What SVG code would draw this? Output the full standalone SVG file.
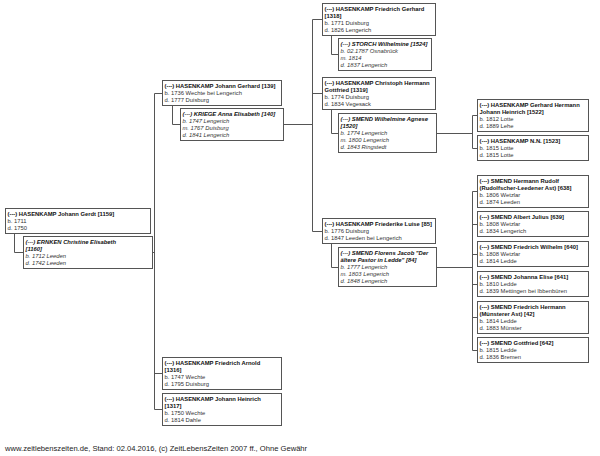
<svg xmlns="http://www.w3.org/2000/svg" width="600" height="456" viewBox="0 0 600 456">
<style>
.box{fill:#fff;stroke:#555;stroke-width:1}
.ln{fill:none;stroke:#555;stroke-width:1}
text{font-family:"Liberation Sans",Arial,sans-serif;font-size:5.85px;fill:#333}
.n{font-weight:bold;fill:#111}
.sp text{font-style:italic}
.foot{font-size:7.6px;fill:#222}
</style>
<rect width="600" height="456" fill="#fff"/>
<g id="connectors">
<path class="ln" d="M14.5,233.5V252.5H23.5M152.5,252.5H154.5M154.5,93.5V409.5M154.5,93.5H162.5M154.5,373.5H162.5M154.5,409.5H162.5"/>
<path class="ln" d="M172.5,105.5V124.5H180.5M283.5,124.5H312.5M312.5,19.5V231.5M312.5,19.5H322.5M312.5,93.5H322.5M312.5,231.5H322.5"/>
<path class="ln" d="M331.5,35.5V54.5H338.5M331.5,109.5V133.5H338.5M331.5,243.5V267.5H338.5"/>
<path class="ln" d="M436.5,133.5H472.5M472.5,115.5V148.5M472.5,115.5H477.5M472.5,148.5H477.5"/>
<path class="ln" d="M436.5,267.5H472.5M472.5,191.5V350.5M472.5,191.5H477.5M472.5,224.5H477.5M472.5,254.5H477.5M472.5,284.5H477.5M472.5,317.5H477.5M472.5,350.5H477.5"/>
</g>
<g id="p1159"><rect class="box" x="5.5" y="208.5" width="145" height="25"/><text x="7.5" y="215.5"><tspan class="n">(---) HASENKAMP Johann Gerdt [1159]</tspan><tspan x="7.5" dy="7.2">b. 1711</tspan><tspan x="7.5" dy="7.2">d. 1750</tspan></text></g>
<g id="p1160" class="sp"><rect class="box" x="23.5" y="236.5" width="129" height="32"/><text x="25.5" y="243.5"><tspan class="n">(---) ERNKEN Christine Elisabeth</tspan><tspan class="n" x="25.5" dy="7.2">[1160]</tspan><tspan x="25.5" dy="7.2">b. 1712 Leeden</tspan><tspan x="25.5" dy="7.2">d. 1742 Leeden</tspan></text></g>
<g id="p139"><rect class="box" x="162.5" y="80.5" width="119" height="25"/><text x="164.5" y="87.5"><tspan class="n">(---) HASENKAMP Johann Gerhard [139]</tspan><tspan x="164.5" dy="7.2">b. 1736 Wechte bei Lengerich</tspan><tspan x="164.5" dy="7.2">d. 1777 Duisburg</tspan></text></g>
<g id="p140" class="sp"><rect class="box" x="180.5" y="108.5" width="103" height="32"/><text x="182.5" y="115.5"><tspan class="n">(---) KRIEGE Anna Elisabeth [140]</tspan><tspan x="182.5" dy="7.2">b. 1747 Lengerich</tspan><tspan x="182.5" dy="7.2">m. 1767 Duisburg</tspan><tspan x="182.5" dy="7.2">d. 1841 Lengerich</tspan></text></g>
<g id="p1316"><rect class="box" x="162.5" y="357.5" width="119" height="32"/><text x="164.5" y="364.5"><tspan class="n">(---) HASENKAMP Friedrich Arnold</tspan><tspan class="n" x="164.5" dy="7.2">[1316]</tspan><tspan x="164.5" dy="7.2">b. 1747 Wechte</tspan><tspan x="164.5" dy="7.2">d. 1795 Duisburg</tspan></text></g>
<g id="p1317"><rect class="box" x="162.5" y="393.5" width="119" height="32"/><text x="164.5" y="400.5"><tspan class="n">(---) HASENKAMP Johann Heinrich</tspan><tspan class="n" x="164.5" dy="7.2">[1317]</tspan><tspan x="164.5" dy="7.2">b. 1750 Wechte</tspan><tspan x="164.5" dy="7.2">d. 1814 Dahle</tspan></text></g>
<g id="p1318"><rect class="box" x="322.5" y="3.5" width="113" height="32"/><text x="324.5" y="10.5"><tspan class="n">(---) HASENKAMP Friedrich Gerhard</tspan><tspan class="n" x="324.5" dy="7.2">[1318]</tspan><tspan x="324.5" dy="7.2">b. 1771 Duisburg</tspan><tspan x="324.5" dy="7.2">d. 1826 Lengerich</tspan></text></g>
<g id="p1524" class="sp"><rect class="box" x="338.5" y="38.5" width="93" height="32"/><text x="340.5" y="45.5"><tspan class="n">(---) STORCH Wilhelmine [1524]</tspan><tspan x="340.5" dy="7.2">b. 02.1787 Osnabrück</tspan><tspan x="340.5" dy="7.2">m. 1814</tspan><tspan x="340.5" dy="7.2">d. 1837 Lengerich</tspan></text></g>
<g id="p1319"><rect class="box" x="322.5" y="77.5" width="113" height="32"/><text x="324.5" y="84.5"><tspan class="n">(---) HASENKAMP Christoph Hermann</tspan><tspan class="n" x="324.5" dy="7.2">Gottfried [1319]</tspan><tspan x="324.5" dy="7.2">b. 1774 Duisburg</tspan><tspan x="324.5" dy="7.2">d. 1834 Vegesack</tspan></text></g>
<g id="p1520" class="sp"><rect class="box" x="338.5" y="113.5" width="98" height="39"/><text x="340.5" y="120.5"><tspan class="n">(---) SMEND Wilhelmine Agnese</tspan><tspan class="n" x="340.5" dy="7.2">[1520]</tspan><tspan x="340.5" dy="7.2">b. 1774 Lengerich</tspan><tspan x="340.5" dy="7.2">m. 1800 Lengerich</tspan><tspan x="340.5" dy="7.2">d. 1843 Ringstedt</tspan></text></g>
<g id="p85"><rect class="box" x="322.5" y="218.5" width="113" height="25"/><text x="324.5" y="225.5"><tspan class="n">(---) HASENKAMP Friederike Luise [85]</tspan><tspan x="324.5" dy="7.2">b. 1776 Duisburg</tspan><tspan x="324.5" dy="7.2">d. 1847 Leeden bei Lengerich</tspan></text></g>
<g id="p84" class="sp"><rect class="box" x="338.5" y="247.5" width="98" height="39"/><text x="340.5" y="254.5"><tspan class="n">(---) SMEND Florens Jacob "Der</tspan><tspan class="n" x="340.5" dy="7.2">ältere Pastor in Ledde" [84]</tspan><tspan x="340.5" dy="7.2">b. 1777 Lengerich</tspan><tspan x="340.5" dy="7.2">m. 1803 Lengerich</tspan><tspan x="340.5" dy="7.2">d. 1848 Lengerich</tspan></text></g>
<g id="p1522"><rect class="box" x="477.5" y="99.5" width="111" height="32"/><text x="479.5" y="106.5"><tspan class="n">(---) HASENKAMP Gerhard Hermann</tspan><tspan class="n" x="479.5" dy="7.2">Johann Heinrich [1522]</tspan><tspan x="479.5" dy="7.2">b. 1812 Lotte</tspan><tspan x="479.5" dy="7.2">d. 1889 Lehe</tspan></text></g>
<g id="p1523"><rect class="box" x="477.5" y="135.5" width="111" height="25"/><text x="479.5" y="142.5"><tspan class="n">(---) HASENKAMP N.N. [1523]</tspan><tspan x="479.5" dy="7.2">b. 1815 Lotte</tspan><tspan x="479.5" dy="7.2">d. 1815 Lotte</tspan></text></g>
<g id="p638"><rect class="box" x="477.5" y="175.5" width="111" height="32"/><text x="479.5" y="182.5"><tspan class="n">(---) SMEND Hermann Rudolf</tspan><tspan class="n" x="479.5" dy="7.2">(Rudolfscher-Leedener Ast) [638]</tspan><tspan x="479.5" dy="7.2">b. 1806 Wetzlar</tspan><tspan x="479.5" dy="7.2">d. 1874 Leeden</tspan></text></g>
<g id="p639"><rect class="box" x="477.5" y="211.5" width="111" height="25"/><text x="479.5" y="218.5"><tspan class="n">(---) SMEND Albert Julius [639]</tspan><tspan x="479.5" dy="7.2">b. 1808 Wetzlar</tspan><tspan x="479.5" dy="7.2">d. 1834 Lengerich</tspan></text></g>
<g id="p640"><rect class="box" x="477.5" y="241.5" width="111" height="25"/><text x="479.5" y="248.5"><tspan class="n">(---) SMEND Friedrich Wilhelm [640]</tspan><tspan x="479.5" dy="7.2">b. 1808 Wetzlar</tspan><tspan x="479.5" dy="7.2">d. 1814 Ledde</tspan></text></g>
<g id="p641"><rect class="box" x="477.5" y="271.5" width="111" height="25"/><text x="479.5" y="278.5"><tspan class="n">(---) SMEND Johanna Elise [641]</tspan><tspan x="479.5" dy="7.2">b. 1810 Ledde</tspan><tspan x="479.5" dy="7.2">d. 1839 Mettingen bei Ibbenbüren</tspan></text></g>
<g id="p42"><rect class="box" x="477.5" y="301.5" width="111" height="32"/><text x="479.5" y="308.5"><tspan class="n">(---) SMEND Friedrich Hermann</tspan><tspan class="n" x="479.5" dy="7.2">(Münsterer Ast) [42]</tspan><tspan x="479.5" dy="7.2">b. 1814 Ledde</tspan><tspan x="479.5" dy="7.2">d. 1883 Münster</tspan></text></g>
<g id="p642"><rect class="box" x="477.5" y="337.5" width="111" height="25"/><text x="479.5" y="344.5"><tspan class="n">(---) SMEND Gottfried [642]</tspan><tspan x="479.5" dy="7.2">b. 1815 Ledde</tspan><tspan x="479.5" dy="7.2">d. 1836 Bremen</tspan></text></g>
<text class="foot" x="5" y="451">www.zeitlebenszeiten.de, Stand: 02.04.2016, (c) ZeitLebensZeiten 2007 ff., Ohne Gewähr</text>
</svg>
